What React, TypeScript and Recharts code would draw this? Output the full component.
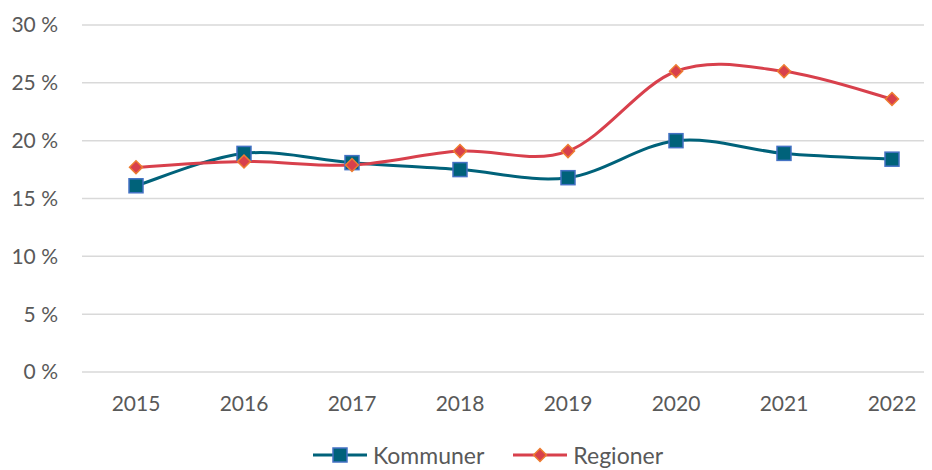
import React from "react"
import { LineChart, Line, XAxis, YAxis, CartesianGrid, Legend } from "recharts"

const years = ["2015", "2016", "2017", "2018", "2019", "2020", "2021", "2022"]
const kommuner = [16.1, 18.9, 18.1, 17.5, 16.8, 20.0, 18.9, 18.4]
const regioner = [17.7, 18.2, 17.9, 19.1, 19.1, 26.0, 26.0, 23.6]
const yTicks = [0, 5, 10, 15, 20, 25, 30]

const data = years.map((year, i) => ({ year, kommuner: kommuner[i], regioner: regioner[i] }))

const FONT = "Lato, 'Open Sans', sans-serif"
const TEXT = "#595959"
const TEAL = "#00627A"
const TEAL_EDGE = "#4472C4"
const RED = "#D8404C"
const RED_EDGE = "#ED7D31"

// Catmull-Rom style smoothing, close to Excel's "smoothed line"
// eslint-disable-next-line @typescript-eslint/no-explicit-any
function smoothCurve(context: any) {
  let pts: [number, number][] = []
  return {
    areaStart() {},
    areaEnd() {},
    lineStart() {
      pts = []
    },
    point(x: number, y: number) {
      pts.push([+x, +y])
    },
    lineEnd() {
      const n = pts.length
      if (!n) return
      context.moveTo(pts[0][0], pts[0][1])
      for (let i = 0; i < n - 1; i++) {
        const p0 = pts[Math.max(i - 1, 0)]
        const p1 = pts[i]
        const p2 = pts[i + 1]
        const p3 = pts[Math.min(i + 2, n - 1)]
        context.bezierCurveTo(
          p1[0] + (p2[0] - p0[0]) / 6,
          p1[1] + (p2[1] - p0[1]) / 6,
          p2[0] - (p3[0] - p1[0]) / 6,
          p2[1] - (p3[1] - p1[1]) / 6,
          p2[0],
          p2[1]
        )
      }
    },
  }
}

// eslint-disable-next-line @typescript-eslint/no-explicit-any
function SquareDot({ cx, cy }: any) {
  if (cx == null || cy == null) return null
  return <rect x={cx - 7} y={cy - 7} width={14} height={14} fill={TEAL} stroke={TEAL_EDGE} strokeWidth={1.5} />
}

// eslint-disable-next-line @typescript-eslint/no-explicit-any
function DiamondDot({ cx, cy }: any) {
  if (cx == null || cy == null) return null
  const r = 6.5
  return (
    <polygon
      points={`${cx},${cy - r} ${cx + r},${cy} ${cx},${cy + r} ${cx - r},${cy}`}
      fill={RED}
      stroke={RED_EDGE}
      strokeWidth={1.5}
    />
  )
}

function LegendIcon({ color, kind }: { color: string; kind: "square" | "diamond" }) {
  return (
    <svg width={56} height={16} style={{ display: "block" }}>
      <line x1={1} y1={8} x2={55} y2={8} stroke={color} strokeWidth={3} />
      {kind === "square" ? (
        <rect x={21} y={1} width={14} height={14} fill={TEAL} stroke={TEAL_EDGE} strokeWidth={1.5} />
      ) : (
        <polygon points="28,1.5 34.5,8 28,14.5 21.5,8" fill={RED} stroke={RED_EDGE} strokeWidth={1.5} />
      )}
    </svg>
  )
}

function ChartLegend() {
  const items = [
    { label: "Kommuner", color: TEAL, kind: "square" as const },
    { label: "Regioner", color: RED, kind: "diamond" as const },
  ]
  return (
    <div
      style={{
        display: "flex",
        justifyContent: "center",
        height: 24,
        alignItems: "center",
        gap: 28,
        paddingLeft: 21,
      }}
    >
      {items.map((it) => (
        <div key={it.label} style={{ display: "flex", alignItems: "center", gap: 5 }}>
          <LegendIcon color={it.color} kind={it.kind} />
          <span style={{ fontFamily: FONT, fontSize: 23, color: TEXT, lineHeight: "24px" }}>{it.label}</span>
        </div>
      ))}
    </div>
  )
}

export default function App() {
  return (
    <div style={{ width: 924, height: 462, overflow: "hidden" }}>
      <LineChart width={938} height={462} data={data} margin={{ top: 17, right: 0, left: 0, bottom: 3 }}>
        <CartesianGrid vertical={false} stroke="#D9D9D9" strokeWidth={1.5} />
        <XAxis
          dataKey="year"
          axisLine={false}
          tickLine={false}
          tickSize={0}
          tickMargin={24}
          height={71}
          padding={{ left: 54, right: 54 }}
          tick={{ fontFamily: FONT, fontSize: 21, fill: TEXT }}
        />
        <YAxis
          domain={[0, 30]}
          ticks={yTicks}
          interval={0}
          axisLine={false}
          tickLine={false}
          tickSize={0}
          tickMargin={24}
          width={74}
          tickFormatter={(v: number) => `${v} %`}
          tick={{ fontFamily: FONT, fontSize: 21, fill: TEXT }}
        />
        <Legend verticalAlign="bottom" height={24} content={<ChartLegend />} />
        <Line
          dataKey="kommuner"
          type={smoothCurve}
          stroke={TEAL}
          strokeWidth={3}
          dot={<SquareDot />}
          activeDot={false}
          isAnimationActive={false}
        />
        <Line
          dataKey="regioner"
          type={smoothCurve}
          stroke={RED}
          strokeWidth={3}
          dot={<DiamondDot />}
          activeDot={false}
          isAnimationActive={false}
        />
      </LineChart>
    </div>
  )
}
